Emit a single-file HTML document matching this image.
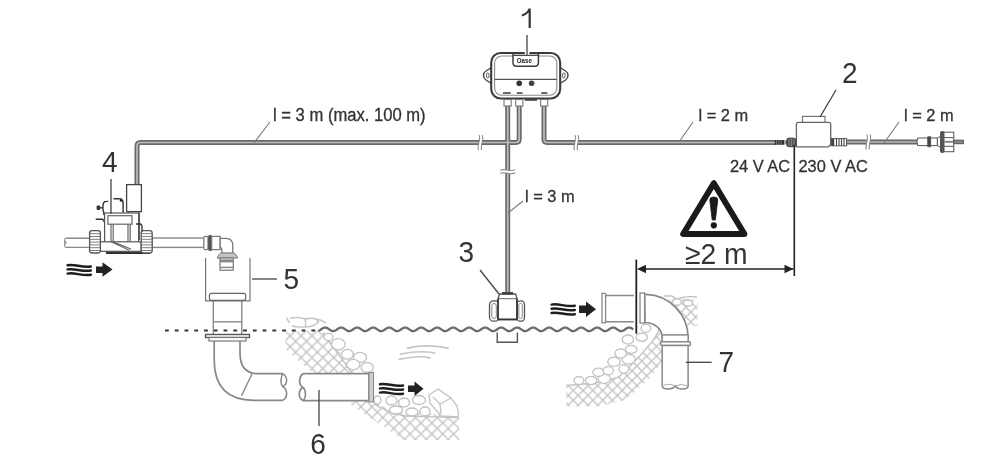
<!DOCTYPE html>
<html><head><meta charset="utf-8">
<style>
html,body{margin:0;padding:0;background:#fff;width:1000px;height:459px;overflow:hidden;}
svg{display:block;will-change:transform;}
text{font-family:"Liberation Sans",sans-serif;fill:#333;}
</style></head><body>
<svg width="1000" height="459" viewBox="0 0 1000 459">
<defs>
 <pattern id="mesh" patternUnits="userSpaceOnUse" width="10.9" height="10.9" x="1.3" y="3.4">
  <path d="M-1,-1 L11.9,11.9 M11.9,-1 L-1,11.9" stroke="#c2c2c2" stroke-width="1.3" fill="none"/>
 </pattern>
 <pattern id="mesh2" patternUnits="userSpaceOnUse" width="9.8" height="9.8" x="9.7" y="3.4">
  <path d="M-1,-1 L10.8,10.8 M10.8,-1 L-1,10.8" stroke="#c2c2c2" stroke-width="1.3" fill="none"/>
 </pattern>
</defs>
<!-- banks -->
<g stroke="#c2c2c2" stroke-width="1.3" fill="#fff">
 <!-- LEFT BANK -->
 <path d="M285.5,331 L324,331 L378.8,406 L459.2,417.7 L459.2,440 L404,440 L343.5,400 L300,362 L285.5,349 Z" fill="url(#mesh)" stroke="none"/>
 <path d="M323,333 L352,373 M355,376 L378.8,406" fill="none"/>
 <!-- stones above water left -->
 <path d="M286.5,317.8 L289.5,323 M290,318 Q300,317 305,319 Q312,317.5 316,319 L318.5,322 Q313,327.2 305,327 Q297,327.5 292,326" fill="none" stroke-width="1.4"/>
 <path d="M305,319 Q306,322 305.5,326.5 M316,319 Q322,320 326,323" fill="none" stroke-width="1.3"/>
 <!-- stones along slope (above pipe) -->
 <ellipse cx="328.5" cy="337" rx="4.5" ry="3.6"/>
 <ellipse cx="338.3" cy="344.2" rx="6.8" ry="5.6"/>
 <ellipse cx="347.4" cy="354.3" rx="5.9" ry="4.9"/>
 <ellipse cx="360" cy="357.4" rx="6.6" ry="5"/>
 <ellipse cx="353.3" cy="364.6" rx="6.6" ry="5.2"/>
 <ellipse cx="367.2" cy="367.5" rx="6.2" ry="5"/>
 <!-- stones below pipe -->
 <path d="M374,404 Q390,414 405,416 L459.2,417.6" fill="none"/>
 <ellipse cx="377.5" cy="400" rx="3.5" ry="4"/>
 <ellipse cx="391.5" cy="400.5" rx="5.5" ry="4.5"/>
 <ellipse cx="404" cy="402.5" rx="5.5" ry="4.5"/>
 <ellipse cx="419" cy="400" rx="6.5" ry="4.5"/>
 <ellipse cx="396" cy="410" rx="6.5" ry="4"/>
 <ellipse cx="412" cy="412" rx="6" ry="4"/>
 <ellipse cx="425" cy="411.5" rx="5" ry="4.5"/>
 <!-- big rock -->
 <path d="M429,395 L438,389 L451,398 L457,406 L458.5,413 L458,417 L441,416 L430,403 Z"/>
 <path d="M433,397 L440,404 L441,414 M440,404 L451,398" fill="none"/>
 <!-- water current strokes -->
 <path d="M407.5,348.1 Q426.4,343.5 448,348.1 M400.5,354.1 Q420,350 434.8,353 M399.1,359.3 Q420,355 429.9,357.9" fill="none" stroke="#c6c6c6" stroke-width="1.7" stroke-linecap="round"/>

 <!-- RIGHT BANK -->
 <path d="M566.2,385.4 L590,383.3 L618.8,376.9 L638.4,357.3 L652.2,341.6 L658,331.8 L660,325 L662,325 L662,362 L649,379 L625,400 L600,406.2 L566.2,406.2 Z" fill="url(#mesh2)" stroke="none"/>
 <path d="M566.2,385.5 L590,383.5 Q606,381.5 618.8,376.9 Q630,367 638.4,357.3 Q646,349 652.2,341.6 Q656,336 658,331.8 Q659.5,328 660.5,325" fill="none"/>
 <ellipse cx="578.9" cy="380.5" rx="4.9" ry="4"/>
 <ellipse cx="591.1" cy="380.5" rx="5.7" ry="4.1"/>
 <ellipse cx="604.2" cy="378.8" rx="6.2" ry="4.6"/>
 <ellipse cx="598.5" cy="372.3" rx="5.7" ry="4.1"/>
 <ellipse cx="608.3" cy="370.7" rx="5.2" ry="4.1"/>
 <ellipse cx="623.8" cy="369" rx="4.9" ry="4.1"/>
 <ellipse cx="614" cy="361.7" rx="6.2" ry="4.6"/>
 <ellipse cx="628.7" cy="359.2" rx="6.5" ry="4.9"/>
 <ellipse cx="620.6" cy="353.5" rx="5.7" ry="4.6"/>
 <ellipse cx="631.2" cy="349.4" rx="5.7" ry="4.1"/>
 <ellipse cx="627.9" cy="339.6" rx="5.7" ry="4.6"/>
 <ellipse cx="641.8" cy="337.2" rx="5.7" ry="4.1"/>
 <ellipse cx="645.9" cy="328.2" rx="4.9" ry="4.1"/>
 <!-- top right near elbow -->
 <path d="M668,298 L680,298 L697.5,300 L697.5,326 L686,326 Z" fill="url(#mesh2)" stroke="none"/>
 <path d="M664,296 L672,296 Q675,300 680,298 Q688,296 697,297" fill="none"/>
 <ellipse cx="677" cy="302" rx="4.5" ry="3.2"/>
 <ellipse cx="688" cy="303" rx="4.5" ry="3"/>
</g>

<!-- water -->
<path d="M165,330.4 L318,330.4" stroke="#333" stroke-width="2" stroke-dasharray="3.8 5.96" fill="none"/>
<polyline points="318.3,330.98 319.3,330.57 320.3,329.97 321.3,329.28 322.3,328.60 323.3,328.03 324.3,327.66 325.3,327.55 326.3,327.72 327.3,328.13 328.3,328.73 329.3,329.42 330.3,330.10 331.3,330.67 332.3,331.04 333.3,331.15 334.3,330.98 335.3,330.57 336.3,329.97 337.3,329.28 338.3,328.60 339.3,328.03 340.3,327.66 341.3,327.55 342.3,327.72 343.3,328.13 344.3,328.73 345.3,329.42 346.3,330.10 347.3,330.67 348.3,331.04 349.3,331.15 350.3,330.98 351.3,330.57 352.3,329.97 353.3,329.28 354.3,328.60 355.3,328.03 356.3,327.66 357.3,327.55 358.3,327.72 359.3,328.13 360.3,328.73 361.3,329.42 362.3,330.10 363.3,330.67 364.3,331.04 365.3,331.15 366.3,330.98 367.3,330.57 368.3,329.97 369.3,329.28 370.3,328.60 371.3,328.03 372.3,327.66 373.3,327.55 374.3,327.72 375.3,328.13 376.3,328.73 377.3,329.42 378.3,330.10 379.3,330.67 380.3,331.04 381.3,331.15 382.3,330.98 383.3,330.57 384.3,329.97 385.3,329.28 386.3,328.60 387.3,328.03 388.3,327.66 389.3,327.55 390.3,327.72 391.3,328.13 392.3,328.73 393.3,329.42 394.3,330.10 395.3,330.67 396.3,331.04 397.3,331.15 398.3,330.98 399.3,330.57 400.3,329.97 401.3,329.28 402.3,328.60 403.3,328.03 404.3,327.66 405.3,327.55 406.3,327.72 407.3,328.13 408.3,328.73 409.3,329.42 410.3,330.10 411.3,330.67 412.3,331.04 413.3,331.15 414.3,330.98 415.3,330.57 416.3,329.97 417.3,329.28 418.3,328.60 419.3,328.03 420.3,327.66 421.3,327.55 422.3,327.72 423.3,328.13 424.3,328.73 425.3,329.42 426.3,330.10 427.3,330.67 428.3,331.04 429.3,331.15 430.3,330.98 431.3,330.57 432.3,329.97 433.3,329.28 434.3,328.60 435.3,328.03 436.3,327.66 437.3,327.55 438.3,327.72 439.3,328.13 440.3,328.73 441.3,329.42 442.3,330.10 443.3,330.67 444.3,331.04 445.3,331.15 446.3,330.98 447.3,330.57 448.3,329.97 449.3,329.28 450.3,328.60 451.3,328.03 452.3,327.66 453.3,327.55 454.3,327.72 455.3,328.13 456.3,328.73 457.3,329.42 458.3,330.10 459.3,330.67 460.3,331.04 461.3,331.15 462.3,330.98 463.3,330.57 464.3,329.97 465.3,329.28 466.3,328.60 467.3,328.03 468.3,327.66 469.3,327.55 470.3,327.72 471.3,328.13 472.3,328.73 473.3,329.42 474.3,330.10 475.3,330.67 476.3,331.04 477.3,331.15 478.3,330.98 479.3,330.57 480.3,329.97 481.3,329.28 482.3,328.60 483.3,328.03 484.3,327.66 485.3,327.55 486.3,327.72 487.3,328.13 488.3,328.73 489.3,329.42 490.3,330.10 491.3,330.67 492.3,331.04 493.3,331.15 494.3,330.98 495.3,330.57 496.3,329.97 497.3,329.28 498.3,328.60 499.3,328.03 500.3,327.66 501.3,327.55 502.3,327.72 503.3,328.13 504.3,328.73 505.3,329.42 506.3,330.10 507.3,330.67 508.3,331.04 509.3,331.15 510.3,330.98 511.3,330.57 512.3,329.97 513.3,329.28 514.3,328.60 515.3,328.03 516.3,327.66 517.3,327.55 518.3,327.72 519.3,328.13 520.3,328.73 521.3,329.42 522.3,330.10 523.3,330.67 524.3,331.04 525.3,331.15 526.3,330.98 527.3,330.57 528.3,329.97 529.3,329.28 530.3,328.60 531.3,328.03 532.3,327.66 533.3,327.55 534.3,327.72 535.3,328.13 536.3,328.73 537.3,329.42 538.3,330.10 539.3,330.67 540.3,331.04 541.3,331.15 542.3,330.98 543.3,330.57 544.3,329.97 545.3,329.28 546.3,328.60 547.3,328.03 548.3,327.66 549.3,327.55 550.3,327.72 551.3,328.13 552.3,328.73 553.3,329.42 554.3,330.10 555.3,330.67 556.3,331.04 557.3,331.15 558.3,330.98 559.3,330.57 560.3,329.97 561.3,329.28 562.3,328.60 563.3,328.03 564.3,327.66 565.3,327.55 566.3,327.72 567.3,328.13 568.3,328.73 569.3,329.42 570.3,330.10 571.3,330.67 572.3,331.04 573.3,331.15 574.3,330.98 575.3,330.57 576.3,329.97 577.3,329.28 578.3,328.60 579.3,328.03 580.3,327.66 581.3,327.55 582.3,327.72 583.3,328.13 584.3,328.73 585.3,329.42 586.3,330.10 587.3,330.67 588.3,331.04 589.3,331.15 590.3,330.98 591.3,330.57 592.3,329.97 593.3,329.28 594.3,328.60 595.3,328.03 596.3,327.66 597.3,327.55 598.3,327.72 599.3,328.13 600.3,328.73 601.3,329.42 602.3,330.10 603.3,330.67 604.3,331.04 605.3,331.15 606.3,330.98 607.3,330.57 608.3,329.97 609.3,329.28 610.3,328.60 611.3,328.03 612.3,327.66 613.3,327.55 614.3,327.72 615.3,328.13 616.3,328.73 617.3,329.42 618.3,330.10 619.3,330.67 620.3,331.04 621.3,331.15 622.3,330.98 623.3,330.57 624.3,329.97 625.3,329.28 626.3,328.60 627.3,328.03 628.3,327.66 629.3,327.55 630.3,327.72 631.3,328.13 632.3,328.73 633.3,329.42" stroke="#6c6c6c" stroke-width="2.3" fill="none"/>

<!-- cables -->
<g fill="none" stroke-linejoin="round">
 <g stroke="#686868" stroke-width="5">
  <path d="M137,186 L137,146 Q137,142.5 140.5,142.5 L516,142.5 Q519.2,142.5 519.2,139.3 L519.2,106"/>
  <path d="M544,106 L544,139.3 Q544,142.5 547.2,142.5 L776,142.5"/>
  <path d="M507.7,106 L507.7,294"/>
  <path d="M846,142 L918,142"/>
 </g>
 <g stroke="#bdbdbd" stroke-width="1.7">
  <path d="M137,186 L137,146 Q137,142.5 140.5,142.5 L516,142.5 Q519.2,142.5 519.2,139.3 L519.2,106"/>
  <path d="M544,106 L544,139.3 Q544,142.5 547.2,142.5 L776,142.5"/>
  <path d="M507.7,106 L507.7,294"/>
  <path d="M846,142 L918,142"/>
 </g>
</g>
<!-- breaks -->
<g fill="none">
 <path d="M480.6,135.0 C482.8,139.5 478.4,145.5 480.0,150.0" stroke="#fff" stroke-width="2.8"/>
 <path d="M479.0,135.0 C481.2,139.5 476.8,145.5 478.4,150.0 M482.2,135.0 C484.4,139.5 480.0,145.5 481.6,150.0" stroke="#8a8a8a" stroke-width="1.05"/>
 <path d="M576.5,135.0 C578.7,139.5 574.3,145.5 575.9,150.0" stroke="#fff" stroke-width="2.8"/>
 <path d="M574.9,135.0 C577.1,139.5 572.7,145.5 574.3,150.0 M578.1,135.0 C580.3,139.5 575.9,145.5 577.5,150.0" stroke="#8a8a8a" stroke-width="1.05"/>
 <path d="M868.5,134.5 C870.7,139.0 866.3,145.0 867.9,149.5" stroke="#fff" stroke-width="2.8"/>
 <path d="M866.9,134.5 C869.1,139.0 864.7,145.0 866.3,149.5 M870.1,134.5 C872.3,139.0 867.9,145.0 869.5,149.5" stroke="#8a8a8a" stroke-width="1.05"/>
 <path d="M500.2,171.8 C504.7,169.6 510.7,174.0 515.2,171.2" stroke="#fff" stroke-width="2.8"/>
 <path d="M500.2,170.2 C504.7,168.0 510.7,172.4 515.2,169.6 M500.2,173.4 C504.7,171.2 510.7,175.6 515.2,172.8" stroke="#8a8a8a" stroke-width="1.05"/>
</g>

<!-- controller -->
<g>
 <!-- ears -->
 <path d="M491.5,67.5 L486,71 Q483.5,72.5 483.5,75.5 Q483.5,78.5 486,80 L491.5,83.5 Z" fill="#fff" stroke="#444" stroke-width="1.4"/>
 <ellipse cx="487.8" cy="75.5" rx="1.3" ry="2.6" fill="none" stroke="#555" stroke-width="1"/>
 <path d="M560,67.5 L565.5,71 Q568,72.5 568,75.5 Q568,78.5 565.5,80 L560,83.5 Z" fill="#fff" stroke="#444" stroke-width="1.4"/>
 <ellipse cx="563.8" cy="75.5" rx="1.3" ry="2.6" fill="none" stroke="#555" stroke-width="1"/>
 <!-- outer box -->
 <rect x="491.2" y="53" width="69" height="45.5" rx="9.5" ry="9.5" fill="#fff" stroke="#3c3c3c" stroke-width="2.1"/>
 <rect x="494.6" y="56" width="62.2" height="39.2" rx="7" ry="7" fill="none" stroke="#888" stroke-width="1.1"/>
 <!-- tab -->
 <path d="M513,54 L513,62.8 Q513,66.2 516.4,66.2 L535,66.2 Q538.4,66.2 538.4,62.8 L538.4,54" fill="#fff" stroke="#3c3c3c" stroke-width="1.5"/>
 <path d="M513,55.3 L538.4,55.3" stroke="#444" stroke-width="1.3"/>
 <path d="M524.8,53 L529.4,53" stroke="#fff" stroke-width="2.6"/>
 <text x="516.8" y="63.4" font-size="6.6" font-weight="bold" style="fill:#222" textLength="15" lengthAdjust="spacingAndGlyphs">Oase</text>
 <path d="M494.6,79.3 L556.8,79.3" stroke="#555" stroke-width="1.3"/>
 <circle cx="519.2" cy="83.3" r="2.8" fill="#333"/>
 <circle cx="531.6" cy="83.3" r="2.8" fill="#444"/>
 <g stroke="#444" stroke-width="1.6">
  <path d="M503,93 L510.7,93"/>
  <path d="M516.8,93 L522.5,93"/>
  <path d="M541.2,93 L547.4,93"/>
 </g>
 <!-- connectors -->
 <g fill="#fff" stroke="#777" stroke-width="1.1">
  <rect x="504" y="99.5" width="7.2" height="6.5"/>
  <rect x="515.7" y="99.5" width="7.2" height="6.5"/>
  <rect x="540.6" y="99.5" width="7.2" height="6.5"/>
 </g>
 <path d="M525,99.8 L537,99.8" stroke="#444" stroke-width="2"/>
</g>

<!-- transformer -->
<g>
 <rect x="802.5" y="116.4" width="22.5" height="8" fill="#fff" stroke="#777" stroke-width="1.2"/>
 <path d="M796.4,146.8 L796.4,124.3 Q796.4,122.3 798.4,122.3 L828.7,122.3 Q830.7,122.3 830.7,124.3 L830.7,144.5 L828.5,146.8 Z" fill="#fff" stroke="#666" stroke-width="1.3"/>
 <!-- left connector -->
 <rect x="774.8" y="140" width="9.5" height="4.8" fill="#333"/>
 <path d="M776.5,140 V144.8 M778.8,140 V144.8 M781.1,140 V144.8" stroke="#999" stroke-width="0.7"/>
 <rect x="784.2" y="140.4" width="2.8" height="4" fill="#999"/>
 <rect x="786.8" y="138.2" width="9" height="8.5" rx="2" fill="#555" stroke="#333" stroke-width="1"/>
 <path d="M789,138.5 V146.5 M791.5,138.5 V146.5 M794,138.5 V146.5" stroke="#999" stroke-width="0.7"/>
 <!-- right connector -->
 <rect x="831.2" y="138.6" width="15.4" height="7.2" fill="#fff" stroke="#555" stroke-width="1"/>
 <rect x="831.2" y="138.6" width="3" height="7.2" fill="#444"/>
 <path d="M836.5,138.8 V145.6 M839,138.8 V145.6 M841.5,138.8 V145.6 M844,138.8 V145.6" stroke="#444" stroke-width="1.1"/>
</g>

<!-- valve -->
<g fill="#fff" stroke="#555" stroke-width="1.2">
 <!-- pipe left and right -->
 <path d="M66,238.2 L90,238.2 M66,247.4 L90,247.4" stroke="#888" stroke-width="1.4"/>
 <path d="M66,238.2 Q64.6,238.2 64.6,240 L64.6,245.6 Q64.6,247.4 66,247.4 M65,241 Q67,242.8 65,244.5" fill="none" stroke="#999" stroke-width="1.2"/>
 <rect x="152" y="238" width="52" height="9.4" stroke="#888" stroke-width="1.4"/>
 <!-- solenoid -->
 <rect x="126.6" y="184.6" width="14.8" height="27" stroke="#444" stroke-width="1.3"/>
 <path d="M128.5,211.6 L128.5,241 M139.5,211.6 L139.5,240" fill="none" stroke="#666"/>
 <!-- top part -->
 <path d="M113.5,198.8 L120,198.8 Q123.1,199.5 123.1,203 L123.1,215.3" fill="none" stroke="#333" stroke-width="1.4"/>
 <circle cx="121" cy="200.6" r="1.2" fill="#222" stroke="none"/>
 <path d="M108.3,201.4 L104.6,201.6 Q103,203 103,205.5 L103,210 Q104,212 104,215.3" fill="none" stroke="#333" stroke-width="1.4"/>
 <rect x="96.6" y="205.6" width="3.6" height="4.4" rx="1.2" fill="#333" stroke="none"/>
 <path d="M100,207.8 L103,207.8" stroke="#333" stroke-width="1.3"/>
 <path d="M95.7,219.2 L102.5,219.2 Q104.2,220 104.6,222.5" fill="none" stroke="#333" stroke-width="1.6"/>
 <!-- housing -->
 <rect x="104.6" y="213" width="34" height="38" stroke="#555"/>
 <rect x="107.9" y="215.7" width="24.1" height="8.5" stroke="#666"/>
 <path d="M111,224.2 L111,241.8 M113.2,224.2 L113.2,241.8 M128,224.2 L128,241.8 M130.2,224.2 L130.2,241.8" fill="none" stroke="#666"/>
 <rect x="100" y="241.8" width="41.2" height="9.5" stroke="#555"/>
 <path d="M111,241.8 L129.4,250.3 M113,241.8 L131,249" fill="none" stroke="#666"/>
 <path d="M106,253 L150,253" stroke="#333" stroke-width="2.2"/>
 <!-- nuts -->
 <rect x="89.6" y="230.7" width="10.8" height="22.3" rx="2.5" stroke="#555" stroke-width="1.3"/>
 <path d="M90,233.7 H100 M90,236.5 H100 M90,239.3 H100 M90,242.1 H100 M90,244.9 H100 M90,247.7 H100 M90,250.5 H100" stroke="#707070" stroke-width="0.9"/>
 <rect x="141.2" y="230.7" width="11" height="22.3" rx="2.5" stroke="#555" stroke-width="1.3"/>
 <path d="M141.6,233.7 H152 M141.6,236.5 H152 M141.6,239.3 H152 M141.6,242.1 H152 M141.6,244.9 H152 M141.6,247.7 H152 M141.6,250.5 H152" stroke="#707070" stroke-width="0.9"/>
 <path d="M136,224 L140,224 Q142,224 142,227 L142,231" fill="none" stroke="#333" stroke-width="1.3"/>
</g>
<!-- waves+arrow under valve -->
<g fill="none" stroke="#1e1e1e" stroke-width="2.5" stroke-linecap="round">
 <path d="M67.6,265.2 C74.6,263.7 81.5,267.8 90.8,266.4"/>
 <path d="M67.6,269.4 C74.6,267.9 81.5,272.0 90.8,270.6"/>
 <path d="M67.6,273.6 C74.6,272.1 81.5,276.2 90.8,274.8"/>
</g>
<path d="M96,266.6 L102.5,266.6 L102.5,262.2 L112.5,269.6 L102.5,276.8 L102.5,273.1 L96,273.1 Z" fill="#222"/>

<!-- pipes -->
<g fill="#fff" stroke="#777" stroke-width="1.2">
 <!-- coupling + elbow 5 top -->
 <rect x="203.9" y="236.4" width="4" height="13.2" rx="1" stroke="#777" stroke-width="1.1"/>
 <rect x="208.6" y="235.4" width="3.2" height="15.2" rx="1" fill="#555" stroke="#444" stroke-width="0.8"/>
 <rect x="211.7" y="236.4" width="8.5" height="13.2" stroke="#777" stroke-width="1.2"/>
 <path d="M220.2,238.3 L226,238.3 Q232.8,238.3 232.8,245.5 L232.8,253.5 L222,253.5 L222,251 Q222,248 220.2,247.2 Z" stroke="#777" stroke-width="1.3"/>
 <path d="M217,258 L219.5,254 Q220,253 222,253 L233,253 Q235,253 235.5,254 L237.7,258 Z" fill="#c4c4c4" stroke="#777" stroke-width="1"/>
 <rect x="220" y="258" width="13.3" height="12.2" stroke="#777" stroke-width="1.2"/>
 <rect x="220" y="259.4" width="13.3" height="3" fill="#888" stroke="none"/>
 <path d="M220,267.4 H233.3" stroke="#888" stroke-width="1.4"/>
 <!-- container bracket -->
 <path d="M205.6,258 L205.6,300.8 L250,300.8 L250,258" fill="none" stroke="#777"/>
 <!-- fitting -->
 <rect x="209.4" y="293.3" width="36.3" height="7" rx="2" stroke="#666"/>
 <path d="M213.3,300.3 L213.3,334.5 M241.8,300.3 L241.8,334.5" stroke="#777"/>
 <path d="M213.3,321.8 L241.8,321.8" stroke="#777"/>
 <rect x="205.5" y="334.5" width="44" height="3" stroke="#555" stroke-width="1.4"/>
 <rect x="209" y="337.5" width="37" height="3.5" stroke="#777"/>
 <!-- elbow -->
 <path d="M214.2,341 L214.2,360 Q214.2,400.3 254,400.3 L283.2,400.3 M240,341 L240,353 Q240,373.7 258,373.7 L283.2,373.7" fill="none" stroke="#888" stroke-width="1.7"/>
 <path d="M252,374 L241.5,395.8" fill="none" stroke="#888" stroke-width="1.4"/>
 <path d="M283.2,373.75 C287.8,377 287.8,384 282.8,386.6 C287.8,389.5 287.8,397 283.2,400.2 M283.2,373.75 C280.2,377 280.2,384 282.8,386.6" fill="none" stroke="#888" stroke-width="1.5"/>
 <!-- pipe 6 -->
 <path d="M303,373.7 L369,373.7 L369,400.6 L303,400.6 C298,398 298,390 303,387.5 C298.5,385 298.5,377 303,373.7 Z" stroke="#888" stroke-width="1.7"/>
 <path d="M303,387.5 C306.3,390 306.3,398 303,400.6" fill="none" stroke="#888" stroke-width="1.5"/>
 <rect x="369" y="372.5" width="4.5" height="29.5" fill="#d0d0d0" stroke="#888" stroke-width="1.1"/>
</g>
<g fill="none" stroke="#1e1e1e" stroke-width="2.5" stroke-linecap="round">
 <path d="M380.0,384.2 C386.9,382.7 393.8,386.8 403.0,385.4"/>
 <path d="M380.0,388.4 C386.9,386.9 393.8,391.0 403.0,389.6"/>
 <path d="M380.0,392.6 C386.9,391.1 393.8,395.2 403.0,393.8"/>
</g>
<path d="M408,385.5 L414.5,385.5 L414.5,381.5 L423.5,388.7 L414.5,396 L414.5,392 L408,392 Z" fill="#222"/>

<!-- sensor -->
<g fill="#fff" stroke="#555" stroke-width="1.3">
 <path d="M497.2,332.5 L497.2,342.2 L517.4,342.2 L517.4,332.5" fill="none" stroke="#555" stroke-width="1.4"/>
 <rect x="489.5" y="300.9" width="9.5" height="20.3" rx="4" />
 <rect x="491.8" y="303.5" width="4.5" height="15" rx="2.2" stroke="#888" stroke-width="1"/>
 <rect x="517" y="300.9" width="7.5" height="20.3" rx="3.5" />
 <rect x="518.8" y="303.5" width="3.5" height="15" rx="1.7" stroke="#888" stroke-width="1"/>
 <path d="M498,319.6 L498,298.7 L499.6,294 L515.6,294 L517,298.7 L517,319.6 Z" stroke="#555"/>
 <path d="M498.2,298.7 L516.8,298.7" stroke="#666" stroke-width="1"/>
 <path d="M498,319.4 L517,319.4 M498,298.7 V319.6 M517,298.7 V319.6" stroke="#333" stroke-width="1.6"/>
 <rect x="502" y="292" width="11" height="2.6" fill="#444" stroke="none"/>
</g>
<g fill="none" stroke="#1e1e1e" stroke-width="2.5" stroke-linecap="round">
 <path d="M551.6,304.6 C558.6,303.1 565.5,307.2 574.8,305.8"/>
 <path d="M551.6,308.8 C558.6,307.3 565.5,311.4 574.8,310.0"/>
 <path d="M551.6,313.0 C558.6,311.5 565.5,315.6 574.8,314.2"/>
</g>
<path d="M579,305.6 L586,305.6 L586,301.5 L596,309.2 L586,317 L586,313 L579,313 Z" fill="#222"/>

<!-- nozzles -->
<g fill="#fff" stroke="#888" stroke-width="1.3">
 <!-- left nozzle -->
 <rect x="605.4" y="295.4" width="28.5" height="26.2" fill="#fff" stroke="none"/>
 <path d="M605.4,295.4 L633.8,295.4 M605.4,321.7 L633.8,321.7" fill="none" stroke-width="1.5"/>
 <rect x="602" y="293.4" width="3.6" height="29.4" stroke="#888"/>
 <!-- elbow 7 -->
 <path d="M644.6,294.4 L646,294.4 A43.4,43.4 0 0 1 688.1,337.8 L662.3,337.8 A17.2,15.3 0 0 0 645,322.5 Z" fill="#fff" stroke-width="1.7"/>
 <rect x="662.2" y="334.9" width="26" height="7" stroke="#888" stroke-width="1.5"/>
 <rect x="660.7" y="341.8" width="29.7" height="3.8" rx="1" stroke="#888" stroke-width="1.5"/>
 <path d="M662.2,345.6 L662.2,386 Q662.2,389 668,389 Q673,389 675.2,386 Q677.5,389 682,389 Q688.1,389 688.1,386 L688.1,345.6 Z" stroke-width="1.5"/>
 <path d="M662.5,386 Q669,382.5 675.2,386 Q681,383 688,386" fill="none" stroke="#aaa" stroke-width="1"/>
 <rect x="640" y="293" width="4.6" height="30" stroke="#888"/>
</g>

<!-- symbols -->
<!-- warning triangle -->
<path d="M713.8,183.2 L683.2,234 L744.4,234 Z" fill="none" stroke="#1a1a1a" stroke-width="6" stroke-linejoin="round"/>
<path d="M709.8,199.8 Q709.8,197 713.8,197 Q717.8,197 717.8,199.8 L715.4,220 L712.2,220 Z" fill="#1a1a1a" stroke="#1a1a1a" stroke-width="0.8" stroke-linejoin="round"/>
<circle cx="713.8" cy="225.3" r="3.1" fill="#1a1a1a"/>
<!-- dimension -->
<path d="M794.3,145 L794.3,276" stroke="#222" stroke-width="1.6"/>
<path d="M636.3,259.6 L636.3,333.7" stroke="#222" stroke-width="1.8"/>
<path d="M645,269 L793.5,269" stroke="#222" stroke-width="1.6"/>
<path d="M637,269 L646,264.8 L646,273.2 Z" fill="#222"/>
<path d="M793.5,269 L784.5,264.8 L784.5,273.2 Z" fill="#222"/>
<!-- plug -->
<g stroke="#555" stroke-width="1">
 <path d="M917.6,138 L928,138 L928,145.6 L917.6,145.6 Q916.5,141.8 917.6,138 Z" fill="#fff"/>
 <rect x="927.9" y="136.8" width="2.7" height="9.9" fill="#444"/>
 <rect x="930.6" y="138" width="6.8" height="7.6" fill="#fff"/>
 <path d="M937.4,138 L940.5,136.4 L940.5,147.1 L937.4,145.6 Z" fill="#fff"/>
 <rect x="940.5" y="131.5" width="3.5" height="20.9" rx="1" fill="#555"/>
 <rect x="944" y="132.2" width="9.8" height="19.5" fill="#fff"/>
 <path d="M944,137.6 H953.8 M944,146.3 H953.8" fill="none"/>
 <path d="M944,141.8 H953.8" stroke="#888" stroke-width="2"/>
 <rect x="953.8" y="140.2" width="9.6" height="3.5" fill="#888"/>
</g>

<!-- labels -->
<g font-size="16.4" style="stroke:#333;stroke-width:0.3">
 <text transform="translate(273.0,120.5) scale(1,1.05)" font-size="16.6">l = 3 m (max. 100 m)</text>
 <text transform="translate(698.5,120.5) scale(1,1.05)">l = 2 m</text>
 <text transform="translate(904.0,120.5) scale(1,1.05)">l = 2 m</text>
 <text transform="translate(525.0,202.0) scale(1,1.05)">l = 3 m</text>
 <text transform="translate(730.0,172.0) scale(1,1.05)">24 V AC</text>
 <text transform="translate(798.5,172.0) scale(1,1.05)">230 V AC</text>
</g>
<g font-size="28">
 <text transform="translate(842.0,83.0) scale(1,1.05)">2</text>
 <text transform="translate(458.5,261.5) scale(1,1.05)">3</text>
 <text transform="translate(102.0,172.0) scale(1,1.05)">4</text>
 <text transform="translate(283.5,288.5) scale(1,1.05)">5</text>
 <text transform="translate(310.3,453.5) scale(1,1.05)">6</text>
 <text transform="translate(718.5,371.5) scale(1,1.05)">7</text>
 <text transform="translate(685.0,263.5) scale(1,1.05)" font-size="28.3">≥2 m</text>
</g>
<path d="M521.8,14.4 Q526.8,13 528.6,8.6 L530.8,8.6 L530.8,28.1 L528.6,28.1 L528.6,12.6 Q526,15.8 521.8,16.4 Z" fill="#333"/>
<g stroke="#444" stroke-width="1.3" fill="none">
 <path d="M527,35 L527,55"/>
 <path d="M836,90 L820,117"/>
 <path d="M480,270 L499,294"/>
 <path d="M111,179 L111,214"/>
 <path d="M252,279 L277,279"/>
 <path d="M319,390 L319,426"/>
 <path d="M685.8,362.3 L711.7,362.3"/>
</g>
<g stroke="#777" stroke-width="1.1" fill="none">
 <path d="M270,122 L254,143"/>
 <path d="M693,122 L679,142"/>
 <path d="M899,122 L884,143"/>
 <path d="M523,201 L508,213"/>
</g>

</svg>
</body></html>
